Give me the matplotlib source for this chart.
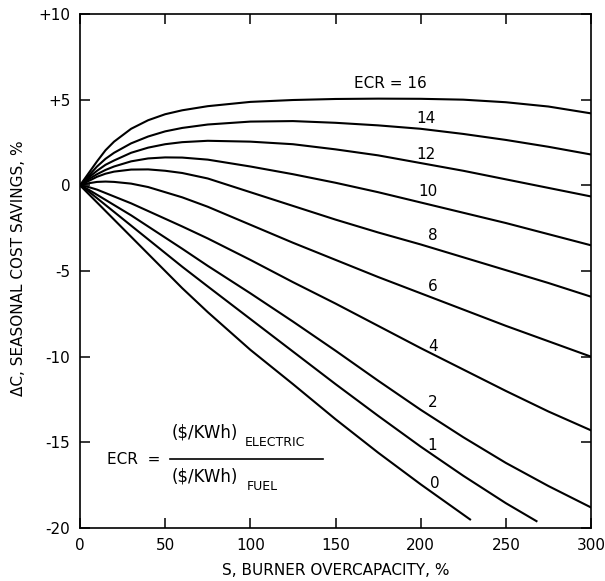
import matplotlib.pyplot as plt

# burner overcapacity grid (%) shared by the upper curves
s_grid = [0, 5, 10, 15, 20, 30, 40, 50, 60, 75, 100, 125, 150, 175, 200, 225, 250, 275, 300]

dc_16 = [0, 0.7, 1.4, 2.05, 2.55, 3.3, 3.8, 4.15, 4.38, 4.62, 4.87, 4.98, 5.04, 5.06, 5.05, 5.0, 4.85, 4.6, 4.2]
dc_14 = [0, 0.55, 1.1, 1.55, 1.9, 2.45, 2.85, 3.15, 3.35, 3.55, 3.72, 3.75, 3.65, 3.5, 3.3, 3.0, 2.65, 2.25, 1.8]
dc_12 = [0, 0.45, 0.85, 1.2, 1.45, 1.9, 2.2, 2.4, 2.52, 2.6, 2.55, 2.4, 2.1, 1.75, 1.3, 0.85, 0.35, -0.15, -0.65]
dc_10 = [0, 0.35, 0.65, 0.9, 1.1, 1.4, 1.57, 1.63, 1.62, 1.5, 1.1, 0.65, 0.15, -0.4, -1.0, -1.6, -2.2, -2.85, -3.5]
dc_8 = [0, 0.25, 0.5, 0.68, 0.8, 0.92, 0.93, 0.85, 0.72, 0.4, -0.4, -1.2, -2.0, -2.75, -3.45, -4.2, -4.95, -5.7, -6.5]
dc_6 = [0, 0.12, 0.2, 0.22, 0.2, 0.1, -0.1, -0.4, -0.7, -1.25, -2.3, -3.35, -4.35, -5.35, -6.3, -7.25, -8.2, -9.1, -10.0]
dc_4 = [0, -0.1, -0.25, -0.45, -0.65, -1.05, -1.5, -1.95, -2.4, -3.1, -4.35, -5.65, -6.9, -8.2, -9.5, -10.75, -12.0, -13.2, -14.3]
dc_2 = [0, -0.25, -0.55, -0.85, -1.15, -1.75, -2.4, -3.05, -3.7, -4.7, -6.3, -7.95, -9.65, -11.4, -13.1, -14.7, -16.2, -17.55, -18.8]

# the two lowest curves run off the bottom of the chart
s_1 = [0, 5, 10, 15, 20, 30, 40, 50, 60, 75, 100, 125, 150, 175, 200, 225, 250, 268]
dc_1 = [0, -0.35, -0.75, -1.15, -1.55, -2.35, -3.15, -3.95, -4.75, -5.9, -7.8, -9.7, -11.6, -13.45, -15.25, -16.95, -18.55, -19.6]
s_0 = [0, 5, 10, 15, 20, 30, 40, 50, 60, 75, 100, 125, 150, 175, 200, 229]
dc_0 = [0, -0.5, -1.0, -1.5, -2.0, -3.0, -4.0, -5.0, -6.0, -7.4, -9.6, -11.6, -13.65, -15.6, -17.45, -19.5]

curves = [
    (s_grid, dc_16), (s_grid, dc_14), (s_grid, dc_12), (s_grid, dc_10),
    (s_grid, dc_8), (s_grid, dc_6), (s_grid, dc_4), (s_grid, dc_2),
    (s_1, dc_1), (s_0, dc_0),
]
curve_labels = ['ECR = 16', '14', '12', '10', '8', '6', '4', '2', '1', '0']
label_pos = [(182, 5.95), (203, 3.9), (203, 1.8), (204, -0.37), (207, -2.95),
             (207, -5.9), (207, -9.43), (207, -12.7), (207, -15.2), (208.5, -17.4)]

x_ticks = [0, 50, 100, 150, 200, 250, 300]
y_ticks = [10, 5, 0, -5, -10, -15, -20]
y_tick_labels = ['+10', '+5', '0', '-5', '-10', '-15', '-20']

plt.rcParams['font.family'] = ['DejaVu Sans']

fig = plt.figure(figsize=(6.05, 5.81), dpi=100)
ax = fig.add_axes([80 / 605, 1 - 528 / 581, 511 / 605, 514 / 581])

for xs, ys in curves:
    ax.plot(xs, ys, color='black', lw=1.5, solid_joinstyle='round')

for txt, (lx, ly) in zip(curve_labels, label_pos):
    ax.text(lx, ly, txt, ha='center', va='center', fontsize=11)

ax.set_xlim(0, 300)
ax.set_ylim(-20, 10)
ax.set_xticks(x_ticks)
ax.set_yticks(y_ticks)
ax.set_yticklabels(y_tick_labels)
ax.tick_params(direction='in', length=7, width=1.1, labelsize=11, pad=7,
               top=True, right=True)
for sp in ax.spines.values():
    sp.set_linewidth(1.2)

ax.set_xlabel('S, BURNER OVERCAPACITY, %', fontsize=11, va='center')
ax.xaxis.set_label_coords(0.5, -0.082)
ax.set_ylabel('\u0394C, SEASONAL COST SAVINGS, %', fontsize=11, va='center')
ax.yaxis.set_label_coords(-0.121, 0.506)

# ECR definition, drawn as a hand-made fraction
def px(xp, yp):
    return xp / 605, 1 - yp / 581

fig.text(*px(107, 460), 'ECR  =', fontsize=11, va='center', ha='left')
fig.text(*px(172, 432), '($/KWh)', fontsize=12, va='center', ha='left', parse_math=False)
fig.text(*px(245, 443), 'ELECTRIC', fontsize=9, va='center', ha='left')
fig.text(*px(172, 476), '($/KWh)', fontsize=12, va='center', ha='left', parse_math=False)
fig.text(*px(247, 486), 'FUEL', fontsize=9, va='center', ha='left')
x0, y0 = px(170, 459)
x1, _ = px(323, 459)
fig.add_artist(plt.Line2D([x0, x1], [y0, y0], color='black', lw=1.2))

fig.savefig('out.png', dpi=100)
